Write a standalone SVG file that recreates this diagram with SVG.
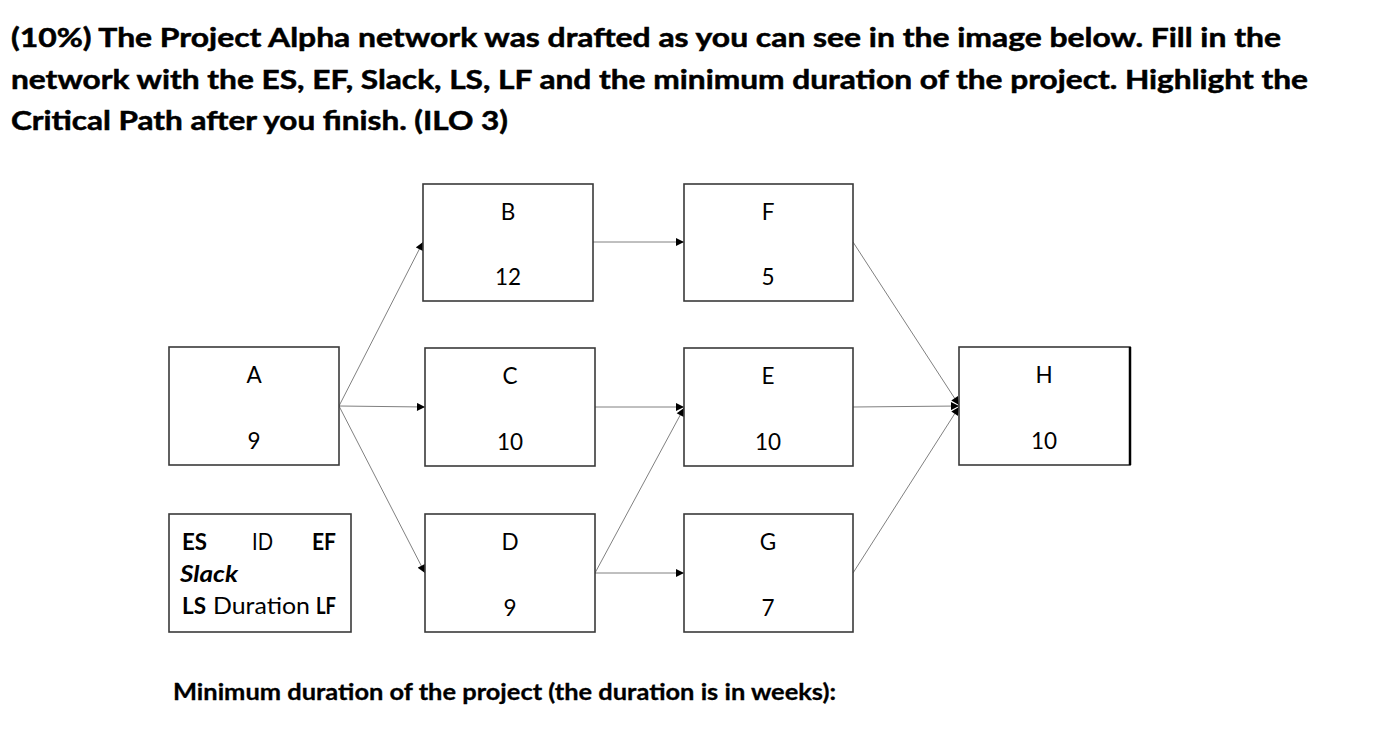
<svg xmlns="http://www.w3.org/2000/svg" width="1376" height="732" viewBox="0 0 1376 732">
<style>
.t{font-family:Lato,"Open Sans","Liberation Sans",sans-serif;fill:#000}
.title{font-size:26px;font-weight:bold;stroke:#000;stroke-width:0.5}
.box{fill:#fff;stroke:#3a3a3a;stroke-width:1.6}
.lbl{font-size:22.5px;text-anchor:middle}
.lg{font-size:22.5px}
.b{font-weight:bold}
.edge{stroke:#808080;stroke-width:1;fill:none;marker-end:url(#ah)}
</style>
<defs>
<marker id="ah" viewBox="0 0 10 10" refX="10" refY="5" markerWidth="9" markerHeight="8" markerUnits="userSpaceOnUse" orient="auto">
<path d="M0,0 L10,5 L0,10 z" fill="#000"/>
</marker>
</defs>
<rect width="1376" height="732" fill="#fff"/>
<g id="title">
<text class="t title" x="11" y="47" textLength="1270" lengthAdjust="spacingAndGlyphs">(10%) The Project Alpha network was drafted as you can see in the image below. Fill in the</text>
<text class="t title" x="11" y="89" textLength="1297" lengthAdjust="spacingAndGlyphs">network with the ES, EF, Slack, LS, LF and the minimum duration of the project. Highlight the</text>
<text class="t title" x="11" y="130" textLength="497" lengthAdjust="spacingAndGlyphs">Critical Path after you finish. (ILO 3)</text>
</g>
<g id="connectors">
<line class="edge" x1="339" y1="406" x2="423" y2="242"/>
<line class="edge" x1="339" y1="406" x2="425" y2="407"/>
<line class="edge" x1="339" y1="406" x2="425" y2="573"/>
<line class="edge" x1="593" y1="242" x2="684" y2="242"/>
<line class="edge" x1="595" y1="407" x2="684" y2="407"/>
<line class="edge" x1="595" y1="573" x2="684" y2="408"/>
<line class="edge" x1="595" y1="573" x2="684" y2="573"/>
<line class="edge" x1="853" y1="242" x2="959" y2="405"/>
<line class="edge" x1="853" y1="407" x2="959" y2="406"/>
<line class="edge" x1="853" y1="573" x2="959" y2="407"/>
</g>
<g id="node-A">
<rect class="box" x="169" y="347" width="170" height="118"/>
<text class="t lbl" x="254" y="383">A</text>
<text class="t lbl" x="254" y="449">9</text>
</g>
<g id="node-B">
<rect class="box" x="423" y="184" width="170" height="117"/>
<text class="t lbl" x="508" y="220">B</text>
<text class="t lbl" x="508" y="285">12</text>
</g>
<g id="node-C">
<rect class="box" x="425" y="348" width="170" height="118"/>
<text class="t lbl" x="510" y="384">C</text>
<text class="t lbl" x="510" y="450">10</text>
</g>
<g id="node-D">
<rect class="box" x="425" y="514" width="170" height="118"/>
<text class="t lbl" x="510" y="550">D</text>
<text class="t lbl" x="510" y="616">9</text>
</g>
<g id="node-F">
<rect class="box" x="684" y="184" width="169" height="117"/>
<text class="t lbl" x="768" y="220">F</text>
<text class="t lbl" x="768" y="285">5</text>
</g>
<g id="node-E">
<rect class="box" x="684" y="348" width="169" height="118"/>
<text class="t lbl" x="768" y="384">E</text>
<text class="t lbl" x="768" y="450">10</text>
</g>
<g id="node-G">
<rect class="box" x="684" y="514" width="169" height="118"/>
<text class="t lbl" x="768" y="550">G</text>
<text class="t lbl" x="768" y="616">7</text>
</g>
<g id="node-H">
<rect class="box" x="959" y="347" width="171" height="118"/>
<line x1="1130" y1="347" x2="1130" y2="465" stroke="#000" stroke-width="2.5"/>
<text class="t lbl" x="1044" y="383">H</text>
<text class="t lbl" x="1044" y="449">10</text>
</g>
<g id="legend">
<rect class="box" x="169" y="514" width="182" height="118"/>
<text class="t lg b" x="182" y="550" textLength="25" lengthAdjust="spacingAndGlyphs">ES</text>
<text class="t lg" x="252" y="550" textLength="21" lengthAdjust="spacingAndGlyphs">ID</text>
<text class="t lg b" x="312" y="550" textLength="24" lengthAdjust="spacingAndGlyphs">EF</text>
<text class="t lg b" x="180" y="582" font-style="italic" textLength="58" lengthAdjust="spacingAndGlyphs">Slack</text>
<text class="t lg b" x="182" y="614" textLength="24" lengthAdjust="spacingAndGlyphs">LS</text>
<text class="t lg" x="213" y="614" textLength="97" lengthAdjust="spacingAndGlyphs">Duration</text>
<text class="t lg b" x="316" y="614" textLength="20" lengthAdjust="spacingAndGlyphs">LF</text>
</g>
<g id="footer">
<text class="t b" x="173" y="700" font-size="23" stroke="#000" stroke-width="0.3" textLength="663" lengthAdjust="spacingAndGlyphs">Minimum duration of the project (the duration is in weeks):</text>
</g>
</svg>
